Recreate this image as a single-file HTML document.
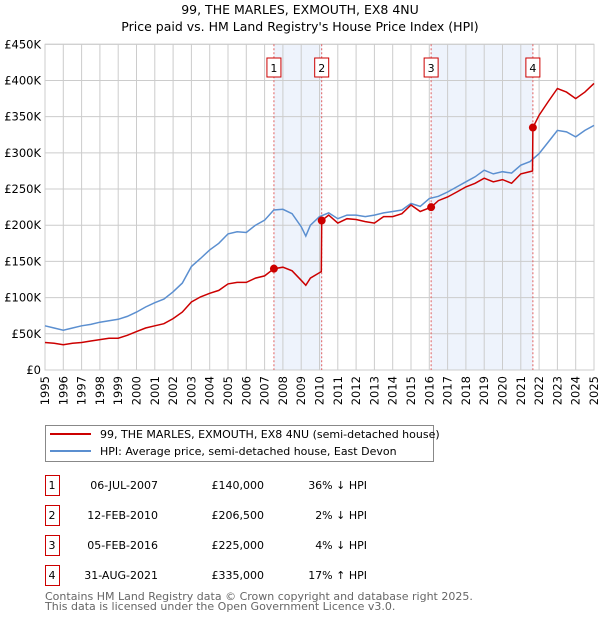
<!DOCTYPE html>
<html><head><meta charset="utf-8"><style>
body{margin:0;background:#fff;}
svg{display:block;font-family:"DejaVu Sans","Liberation Sans",sans-serif;}
</style></head><body>
<svg id="chart" width="600" height="620" viewBox="0 0 600 620" xmlns="http://www.w3.org/2000/svg">
<text x="300" y="14" text-anchor="middle" font-size="12.5">99, THE MARLES, EXMOUTH, EX8 4NU</text>
<text x="300" y="31" text-anchor="middle" font-size="12.5">Price paid vs. HM Land Registry's House Price Index (HPI)</text>
<g id="plot"></g>
<g>
<rect x="45.5" y="425.5" width="388" height="36" fill="#fff" stroke="#888"/>
<line x1="50" y1="434" x2="91" y2="434" stroke="#cc0000" stroke-width="2"/>
<text x="100" y="438" font-size="11">99, THE MARLES, EXMOUTH, EX8 4NU (semi-detached house)</text>
<line x1="50" y1="451" x2="91" y2="451" stroke="#5b8fd0" stroke-width="2"/>
<text x="100" y="455" font-size="11">HPI: Average price, semi-detached house, East Devon</text>
</g>
<g id="table" font-size="11"></g>
<text x="45" y="600" font-size="11" fill="#666">Contains HM Land Registry data © Crown copyright and database right 2025.</text>
<text x="45" y="610" font-size="11" fill="#666">This data is licensed under the Open Government Licence v3.0.</text>
</svg>
<script>
const hpiTimes=[1995,1995.5,1996,1996.5,1997,1997.5,1998,1998.5,1999,1999.5,2000,2000.5,2001,2001.5,2002,2002.5,2003,2003.5,2004,2004.5,2005,2005.5,2006,2006.5,2007,2007.5,2008,2008.5,2009,2009.25,2009.5,2010,2010.5,2011,2011.5,2012,2012.5,2013,2013.5,2014,2014.5,2015,2015.5,2016,2016.5,2017,2017.5,2018,2018.5,2019,2019.5,2020,2020.5,2021,2021.5,2022,2022.5,2023,2023.5,2024,2024.5,2025];
const hpiValues=[61,58,55,58,61,63,66,68,70,74,80,87,93,98,108,120,143,154,166,175,188,191,190,200,207,221,222,216,198,185,200,212,217,209,214,214,212,214,217,219,221,230,226,237,240,246,253,260,267,276,271,274,272,283,288,299,315,331,329,322,331,338];
const redTimes=[1995,1995.5,1996,1996.5,1997,1997.5,1998,1998.5,1999,1999.5,2000,2000.5,2001,2001.5,2002,2002.5,2003,2003.5,2004,2004.5,2005,2005.5,2006,2006.5,2007,2007.51,2008,2008.5,2009,2009.25,2009.5,2010.1,2010.12,2010.5,2011,2011.5,2012,2012.5,2013,2013.5,2014,2014.5,2015,2015.5,2016.1,2016.5,2017,2017.5,2018,2018.5,2019,2019.5,2020,2020.5,2021,2021.64,2021.66,2022,2022.5,2023,2023.5,2024,2024.5,2025];
const redValues=[38,37,35,37,38,40,42,44,44,48,53,58,61,64,71,80,94,101,106,110,119,121,121,127,130,140,142,137,124,117,127,136,206.5,214,203,209,208,205,203,212,212,216,228,219,225,234,239,246,253,258,265,260,263,258,271,275,335,352,371,389,384,375,384,396];
const saleLabels=["1","2","3","4"];
const saleTimes=[2007.51,2010.12,2016.10,2021.66];
const saleValues=[140,206.5,225,335];
const saleDates=["06-JUL-2007","12-FEB-2010","05-FEB-2016","31-AUG-2021"];
const salePrices=["£140,000","£206,500","£225,000","£335,000"];
const saleHpi=["36% ↓ HPI","2% ↓ HPI","4% ↓ HPI","17% ↑ HPI"];
const yTicks=[0,50,100,150,200,250,300,350,400,450];
const yTickLabels=["£0","£50K","£100K","£150K","£200K","£250K","£300K","£350K","£400K","£450K"];
const xYears=[1995,1996,1997,1998,1999,2000,2001,2002,2003,2004,2005,2006,2007,2008,2009,2010,2011,2012,2013,2014,2015,2016,2017,2018,2019,2020,2021,2022,2023,2024,2025];

const NS="http://www.w3.org/2000/svg";
const X0=45,X1=594,Y0=370,Y1=44.3;
const x=t=>X0+(t-1995)/30*(X1-X0);
const y=v=>Y0-v/450*(Y0-Y1);
const plot=document.getElementById('plot');
function mk(tag,attrs,parent){const e=document.createElementNS(NS,tag);for(const k in attrs)e.setAttribute(k,attrs[k]);(parent||plot).appendChild(e);return e;}
// shading
for(let i=0;i<saleTimes.length;i+=2){
  const r=mk('rect',{x:x(saleTimes[i]),y:Y1,width:x(saleTimes[i+1])-x(saleTimes[i]),height:Y0-Y1,fill:'#eef3fc'});
  
  
}
// grid
yTicks.forEach((v,i)=>{
  const l=mk('line',{x1:X0,x2:X1,y1:y(v),y2:y(v),stroke:'#ccc','stroke-width':1});
  
  
  const t=mk('text',{x:X0-4,y:y(v)+4,'text-anchor':'end','font-size':11.5});
  t.textContent=yTickLabels[i];
  
  
});
xYears.forEach(yr=>{
  const l=mk('line',{x1:x(yr),x2:x(yr),y1:Y1,y2:Y0,stroke:'#ccc','stroke-width':1});
  
  
  const t=mk('text',{x:0,y:0,'text-anchor':'end','font-size':11.5,transform:`translate(${x(yr)+4},${Y0+6}) rotate(-90)`});
  t.textContent=yr;
  
  
});
const frame=mk('rect',{x:X0,y:Y1,width:X1-X0,height:Y0-Y1,fill:'none',stroke:'#ccc'});


// sale lines and labels
saleTimes.forEach((t,i)=>{
  const l=mk('line',{x1:x(t),x2:x(t),y1:Y1,y2:Y0,stroke:'#e06060','stroke-width':1,'stroke-dasharray':'2,2'});
  
  
  const b=mk('rect',{x:x(t)-7,y:58,width:14,height:19,fill:'#fff',stroke:'#cc0000'});
  
  
  const tx=mk('text',{x:x(t),y:72,'text-anchor':'middle','font-size':11});
  tx.textContent=saleLabels[i];
  
  
});
function path(ts,vs){return ts.map((t,i)=>(i?'L':'M')+x(t).toFixed(1)+','+y(vs[i]).toFixed(1)).join('');}
const hp=mk('path',{d:path(hpiTimes,hpiValues),fill:'none',stroke:'#5b8fd0','stroke-width':1.5});


const rp=mk('path',{d:path(redTimes,redValues),fill:'none',stroke:'#cc0000','stroke-width':1.5});


saleTimes.forEach((t,i)=>{
  const c=mk('circle',{cx:x(t),cy:y(saleValues[i]),r:4,fill:'#cc0000'});
  
  
});
// table
const tbl=document.getElementById('table');
saleLabels.forEach((s,i)=>{
  const yy=475+i*30;
  const b=mk('rect',{x:45.5,y:yy+0.5,width:14,height:20,fill:'#fff',stroke:'#cc0000'},tbl);
  
  
  const cols=[[52,s,'middle'],[158,saleDates[i],'end'],[264,salePrices[i],'end'],[367,saleHpi[i],'end']];
  cols.forEach(c=>{
    const t=mk('text',{x:c[0],y:yy+14,'text-anchor':c[2]},tbl);
    t.textContent=c[1];
    
    
  });
});
</script>
</body></html>
